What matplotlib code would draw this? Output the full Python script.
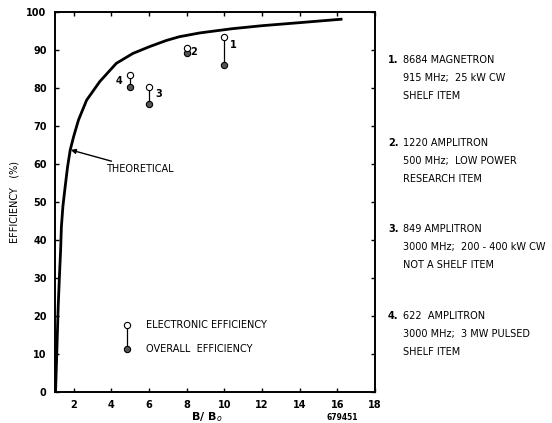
import matplotlib.pyplot as plt
import numpy as np

# theoretical efficiency curve
theory_x = [1.03, 1.09, 1.17, 1.24, 1.30, 1.34, 1.42, 1.54, 1.67, 1.81, 1.99, 2.25, 2.68,
            3.38, 4.26, 5.14, 6.03, 6.91, 7.61, 8.7, 10.4, 12.0, 14.0, 16.2]
theory_y = [0, 9.3, 22.4, 30.8, 37.4, 43.4, 48.8, 54.0, 59.3, 63.7, 67.2, 71.6, 76.8,
            81.7, 86.5, 89.1, 90.9, 92.5, 93.5, 94.5, 95.6, 96.4, 97.2, 98.1]

# measured tubes
tube_ids = ["1", "2", "3", "4"]
tube_b = [10, 8, 6, 5]
electronic_eff = [93.5, 90.6, 80.2, 83.4]
overall_eff = [86.0, 89.1, 75.8, 80.2]

descriptions = [
    ["8684 MAGNETRON", "915 MHz;  25 kW CW", "SHELF ITEM"],
    ["1220 AMPLITRON", "500 MHz;  LOW POWER", "RESEARCH ITEM"],
    ["849 AMPLITRON", "3000 MHz;  200 - 400 kW CW", "NOT A SHELF ITEM"],
    ["622  AMPLITRON", "3000 MHz;  3 MW PULSED", "SHELF ITEM"],
]

fs = 7
fig = plt.figure(figsize=(5.52, 4.23), dpi=100)
ax = fig.add_axes([0.0996, 0.0733, 0.5797, 0.8983])

ax.plot(theory_x, theory_y, color="black", lw=2, solid_joinstyle="round")

for x, e, o in zip(tube_b, electronic_eff, overall_eff):
    ax.plot([x, x], [e, o], color="black", lw=0.9, zorder=2)
ax.plot(tube_b, overall_eff, "o", ms=4.5, mfc="#555555", mec="black", mew=0.8, zorder=3)
ax.plot(tube_b, electronic_eff, "o", ms=4.5, mfc="white", mec="black", mew=0.8, zorder=3)

# point numbers
offsets = [(0.45, -2.2), (0.35, -1.1), (0.5, -1.8), (-0.6, -1.6)]
for tid, x, e, (dx, dy) in zip(tube_ids, tube_b, electronic_eff, offsets):
    ax.text(x + dx, e + dy, tid, fontsize=fs, fontweight="bold", ha="center", va="center")

# theoretical label with arrow
ax.annotate("THEORETICAL", xy=(1.84, 63.7), xytext=(3.7, 58.7), fontsize=fs,
            va="center", ha="left",
            arrowprops=dict(arrowstyle="-|>", color="black", lw=1, mutation_scale=7,
                            shrinkA=0, shrinkB=0))

# key
ax.plot([4.81, 4.81], [17.6, 11.3], color="black", lw=0.9)
ax.plot([4.81], [11.3], "o", ms=4.5, mfc="#555555", mec="black", mew=0.8)
ax.plot([4.81], [17.6], "o", ms=4.5, mfc="white", mec="black", mew=0.8)
ax.text(5.85, 17.6, "ELECTRONIC EFFICIENCY", fontsize=fs, va="center")
ax.text(5.85, 11.3, "OVERALL  EFFICIENCY", fontsize=fs, va="center")

ax.set_xlim(1, 18)
ax.set_ylim(0, 100)
ax.set_xticks(np.arange(2, 19, 2))
ax.set_yticks(np.arange(0, 101, 10))
ax.tick_params(direction="in", length=3, width=1, labelsize=fs, top=True, right=True, pad=6)
for lab in ax.get_xticklabels() + ax.get_yticklabels():
    lab.set_fontweight("bold")
for s in ax.spines.values():
    s.set_linewidth(1.4)

ax.set_ylabel("EFFICIENCY   (%)", fontsize=fs, labelpad=5)
ax.set_xlabel("B/ B$_o$", fontsize=fs + 1, fontweight="bold")
ax.xaxis.set_label_coords(0.475, -0.048)
fig.text(342 / 552, 1 - 417 / 423, "679451", fontsize=5.5, ha="center", va="center", fontweight="bold")

# right-hand descriptions
tops = [60, 143, 229, 316]
for i, (top, lines) in enumerate(zip(tops, descriptions)):
    fig.text(388 / 552, 1 - top / 423, f"{i + 1}.", fontsize=fs, va="center", fontweight="bold")
    for j, line in enumerate(lines):
        fig.text(403 / 552, 1 - (top + 18 * j) / 423, line, fontsize=fs, va="center")

fig.savefig("out.png", dpi=100)
